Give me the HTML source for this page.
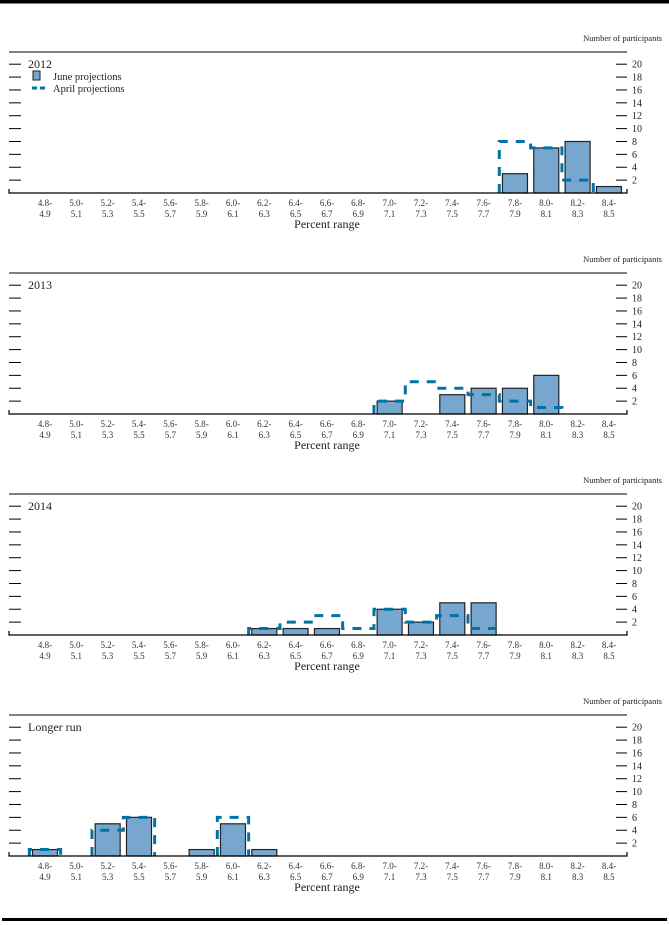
<!DOCTYPE html>
<html><head><meta charset="utf-8">
<style>
html,body{margin:0;padding:0;background:#fff;}
svg{display:block;font-family:"Liberation Serif",serif;}
</style></head>
<body>
<svg id="chart" width="669" height="925" viewBox="0 0 669 925" xmlns="http://www.w3.org/2000/svg">
<rect x="0" y="0" width="669" height="3.5" fill="#000"/>
<rect x="2" y="918" width="665" height="3" fill="#000"/>
</svg>
<script>
const categories = ["4.8-4.9","5.0-5.1","5.2-5.3","5.4-5.5","5.6-5.7","5.8-5.9","6.0-6.1","6.2-6.3","6.4-6.5","6.6-6.7","6.8-6.9","7.0-7.1","7.2-7.3","7.4-7.5","7.6-7.7","7.8-7.9","8.0-8.1","8.2-8.3","8.4-8.5"];
const panelTitles = ["2012","2013","2014","Longer run"];
const juneValues = [
  [0,0,0,0,0,0,0,0,0,0,0,0,0,0,0,3,7,8,1],
  [0,0,0,0,0,0,0,0,0,0,0,2,0,3,4,4,6,0,0],
  [0,0,0,0,0,0,0,1,1,1,0,4,2,5,5,0,0,0,0],
  [1,0,5,6,0,1,5,1,0,0,0,0,0,0,0,0,0,0,0]
];
const aprilValues = [
  [0,0,0,0,0,0,0,0,0,0,0,0,0,0,0,8,7,2,0],
  [0,0,0,0,0,0,0,0,0,0,0,2,5,4,3,2,1,0,0],
  [0,0,0,0,0,0,0,1,2,3,1,4,2,3,1,0,0,0,0],
  [1,0,4,6,0,0,6,0,0,0,0,0,0,0,0,0,0,0,0]
];
const yTicks = [2,4,6,8,10,12,14,16,18,20];

const svg = document.getElementById('chart');
const NS = 'http://www.w3.org/2000/svg';
function mk(tag, attrs, parent){
  const e = document.createElementNS(NS, tag);
  for (const k in attrs) e.setAttribute(k, attrs[k]);
  (parent||svg).appendChild(e);
  return e;
}
const xL = 9, xR = 627, x0 = 45, step = 31.33, half = 15.66, barW = 25;
const unit = 6.44;
function xc(i){ return x0 + i*step; }

panelTitles.forEach((title, p) => {
  const off = p*221;
  const base = 193 + off;
  const y = v => base - v*unit;
  const g = mk('g', {});
  
  

  const nt = mk('text', {x:662, y:41+off, 'font-size':'8.5', 'text-anchor':'end', fill:'#222'}, g);
  nt.textContent = 'Number of participants';
  
  

  const rule = mk('line', {x1:9, x2:627, y1:52+off, y2:52+off, stroke:'#000', 'stroke-width':1}, g);
  
  

  yTicks.forEach(t => {
    const ty = y(t);
    const lt = mk('line', {x1:xL, x2:xL+12, y1:ty, y2:ty, stroke:'#000', 'stroke-width':1}, g);
    
    
    const rt = mk('line', {x1:xR-11, x2:xR, y1:ty, y2:ty, stroke:'#000', 'stroke-width':1}, g);
    
    
    const tl = mk('text', {x:632, y:ty+3.5, 'font-size':'10', fill:'#222'}, g);
    tl.textContent = t;
    
    
  });

  const tt = mk('text', {x:28, y:y(20)+4, 'font-size':'12', fill:'#222'}, g);
  tt.textContent = title;
  
  

  juneValues[p].forEach((v, i) => {
    if (v <= 0) return;
    const r = mk('rect', {x:xc(i)-barW/2, y:y(v), width:barW, height:v*unit, fill:'#77a7cf', stroke:'#222', 'stroke-width':1.2}, g);
    
    
  });

  const a = aprilValues[p];
  let d = '';
  for (let i = 0; i < a.length; i++) {
    const prev = i > 0 ? a[i-1] : 0;
    const L = xc(i)-half, R = xc(i)+half;
    if (a[i] > 0) {
      if (d === '' || prev === 0) d += `M${L},${y(0)} `;
      d += `L${L},${y(prev>0?prev:0)} L${L},${y(a[i])} L${R},${y(a[i])} `;
      const next = i < a.length-1 ? a[i+1] : 0;
      if (next === 0) d += `L${R},${y(0)} `;
    }
  }
  if (d) {
    const path = mk('path', {d:d, fill:'none', stroke:'#0072a8', 'stroke-width':3, 'stroke-dasharray':'9,8'}, g);
    
    
  }

  const ax = mk('polyline', {points:`${xL},${base-4} ${xL},${base} ${xR},${base} ${xR},${base-4}`, fill:'none', stroke:'#000', 'stroke-width':1.2}, g);
  
  

  categories.forEach((c, i) => {
    const parts = c.split('-');
    const t1 = mk('text', {x:xc(i), y:base+13, 'font-size':'9', 'text-anchor':'middle', fill:'#333'}, g);
    t1.textContent = parts[0] + '-';
    
    
    const t2 = mk('text', {x:xc(i), y:base+24, 'font-size':'9', 'text-anchor':'middle', fill:'#333'}, g);
    t2.textContent = parts[1];
    
    
  });
  const xt = mk('text', {x:327, y:base+35, 'font-size':'12', 'text-anchor':'middle', fill:'#222'}, g);
  xt.textContent = 'Percent range';
  
  

  if (p === 0) {
    const lr = mk('rect', {x:33, y:71, width:7, height:9, fill:'#77a7cf', stroke:'#222', 'stroke-width':1}, g);
    
    
    const l1 = mk('text', {x:53, y:80, 'font-size':'10.5', fill:'#222'}, g);
    l1.textContent = 'June projections';
    
    
    const ll = mk('line', {x1:32, x2:47, y1:88, y2:88, stroke:'#0072a8', 'stroke-width':3, 'stroke-dasharray':'5,3'}, g);
    
    
    const l2 = mk('text', {x:53, y:92, 'font-size':'10.5', fill:'#222'}, g);
    l2.textContent = 'April projections';
    
    
  }
});
</script>
</body></html>
